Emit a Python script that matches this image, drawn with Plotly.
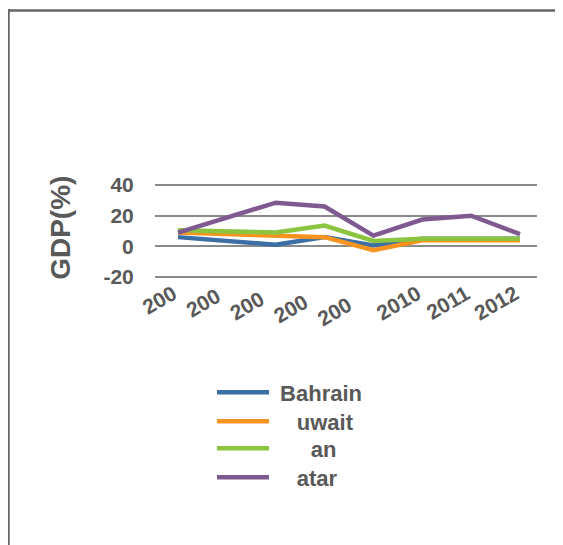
import plotly.graph_objects as go

categories = ["200", "200 ", "200  ", "200   ", "200    ", "2010", "2011", "2012"]
bahrain = [6, 3.5, 1, 6, 0.5, 5, 5, 5]
kuwait = [9, 8, 7, 6, -2.5, 4, 4, 4]
oman = [10.5, 9.5, 9, 13.5, 3.5, 5, 5, 5]
qatar = [9, 19, 28.5, 26, 7, 17.5, 20, 8]
ytick_vals = [-20, 0, 20, 40]
ytick_text = ["-20", "0", "20", "40"]
y_title = "GDP(%)"

NB = "\u00a0"
series_names = [NB + "Bahrain", NB * 3 + "\u2009uwait", NB * 6 + "an", NB * 3 + "\u2009atar"]
series_values = [bahrain, kuwait, oman, qatar]
colors = ["#3b6fa5", "#f7931e", "#8bc53f", "#7f5a91"]
legend_ids = ["legend", "legend2", "legend3", "legend4"]

fig = go.Figure()
for name, vals, col, lg in zip(series_names, series_values, colors, legend_ids):
    fig.add_trace(go.Scatter(
        x=categories, y=vals, mode="lines", name=name,
        line=dict(color=col, width=4.5), legend=lg,
    ))

font_fam = "Liberation Sans, Arial, sans-serif"
grey = "#595959"

# figure coords (page has an 8px body offset)
L, R = 147, 529
T, B = 173.5, 271.8
W, H = 563, 545
pw, ph = R - L, B - T

legend_tops = [363.5, 392.5, 419.5, 448.5]


def legend_style(top):
    return dict(
        xref="container", yref="container",
        x=204 / W, y=1 - top / H, xanchor="left", yanchor="top",
        font=dict(size=22, family=font_fam, color=grey, weight="bold"),
        itemwidth=52, bgcolor="rgba(0,0,0,0)",
    )


layout_legends = {lg: legend_style(t) for lg, t in zip(legend_ids, legend_tops)}

fig.update_layout(
    width=W, height=H,
    margin=dict(l=L, r=W - R, t=T, b=H - B, autoexpand=False),
    paper_bgcolor="white", plot_bgcolor="white",
    font=dict(family=font_fam, color=grey),
    showlegend=True,
    **layout_legends,
    xaxis=dict(
        type="category", range=[-0.471, 7.348],
        showgrid=False, zeroline=False, showline=False,
        ticks="", ticklabelstandoff=-3, ticklabelshift=-5,
        tickangle=-30,
        tickfont=dict(size=21, family=font_fam, color=grey, weight="bold"),
    ),
    yaxis=dict(
        range=[-22, 42], tickvals=ytick_vals, ticktext=ytick_text,
        showgrid=True, gridcolor="#8a8a8a", gridwidth=1.5,
        zeroline=False, showline=False,
        ticks="outside", ticklen=16, tickcolor="rgba(0,0,0,0)",
        tickfont=dict(size=21, family=font_fam, color=grey, weight="bold"),
    ),
    annotations=[
        dict(text=y_title, xref="paper", yref="paper",
             x=(53 - L) / pw, y=1 - (219.5 - T) / ph,
             xanchor="center", yanchor="middle", textangle=-90, showarrow=False,
             font=dict(size=28, family=font_fam, color=grey, weight="bold")),
    ],
    shapes=[
        dict(type="line", xref="paper", yref="paper",
             x0=(0 - L) / pw, x1=(W + 20 - L) / pw,
             y0=1 + (T - 1.5) / ph, y1=1 + (T - 1.5) / ph,
             line=dict(color="#666666", width=2.5)),
        dict(type="line", xref="paper", yref="paper",
             x0=(0.5 - L) / pw, x1=(0.5 - L) / pw,
             y0=1 + (T - 0) / ph, y1=1 - (H + 20 - T) / ph,
             line=dict(color="#666666", width=2.5)),
    ],
)

fig.write_html("out.html")
